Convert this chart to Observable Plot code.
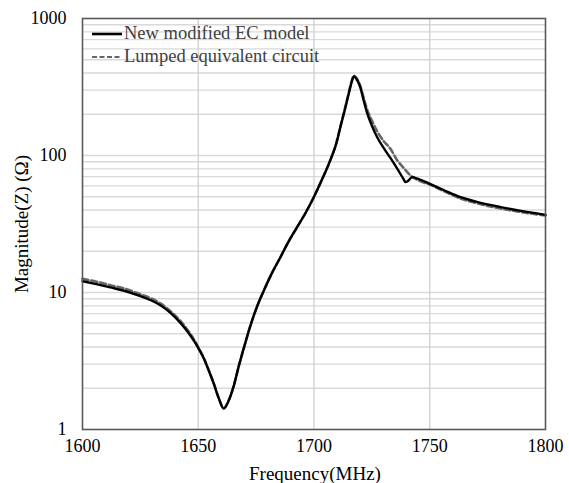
<!DOCTYPE html>
<html><head><meta charset="utf-8">
<script src="https://cdn.jsdelivr.net/npm/d3@7"></script>
<script src="https://cdn.jsdelivr.net/npm/@observablehq/plot@0.6"></script>
<style>
body{margin:0;background:#fff;}
#wrap{position:relative;width:569px;height:483px;overflow:hidden;font-family:"Liberation Serif","Times New Roman",serif;}
#wrap svg text{font-family:"Liberation Serif","Times New Roman",serif !important;font-size:18px !important;fill:#000;}
#legend{position:absolute;left:92px;top:22px;font-size:18.5px;color:#404040;line-height:23px;}
#legend div{display:flex;align-items:center;}
#legend svg{margin-right:2px;}
.ttl{position:absolute;font-size:19px;color:#000;white-space:nowrap;}
#xt{left:315px;top:474px;transform:translate(-50%,-50%);}
#yt{left:22px;top:224px;transform:translate(-50%,-50%) rotate(-90deg);}
</style></head>
<body><div id="wrap"><div id="legend"></div><div class="ttl" id="xt"></div><div class="ttl" id="yt"></div></div>
<script>
const seriesNames = ["New modified EC model", "Lumped equivalent circuit"];
const xTitle = "Frequency(MHz)";
const yTitle = "Magnitude(Z) (Ω)";
const freqA = [1600,1606,1612,1618,1625,1630,1634,1638,1642.3,1645.5,1648.1,1650.5,1652.4,1654.5,1656.7,1658.8,1661,1663,1665.4,1667.5,1670,1672.5,1675.4,1678.3,1681.5,1685.5,1689,1692.7,1696.5,1699.9,1703.5,1707.1,1709.5,1711.4,1713.3,1715,1716.3,1717.2,1718.2,1720.1,1721.5,1723,1725,1727.3,1730,1733,1736,1738.5,1739.5,1740.5,1742.4,1745,1750.3,1756,1763.3,1770,1780.6,1790,1800];
const magA  = [12.1,11.5,10.9,10.3,9.4,8.7,8.0,7.1,6.0,5.15,4.45,3.8,3.3,2.7,2.16,1.7,1.42,1.6,2.1,2.9,4.1,5.7,7.9,10.3,13.5,18.1,23.5,30,38.5,49.6,67,93,120,161,215,282,345,377,365,310,250,203,165,136,114,96,80,68,64,65,69.5,67.5,61.8,56,49.6,46,42,39.3,36.9];
const freqB = [1600,1606,1612,1618,1625,1630,1634,1638,1642.3,1645.5,1648.1,1650.5,1652.4,1654.5,1656.7,1658.8,1661,1663,1665.4,1667.5,1670,1672.5,1675.4,1678.3,1681.5,1685.5,1689,1692.7,1696.5,1699.9,1703.5,1707.1,1709.5,1711.4,1713.3,1715,1716.3,1717.2,1718.2,1720.1,1721.5,1723,1725,1727.3,1730,1733,1736,1738.5,1741.7,1745,1750.3,1756,1763.3,1770,1780.6,1790,1800];
const magB  = [12.6,12.0,11.3,10.7,9.7,9.0,8.25,7.3,6.2,5.3,4.55,3.85,3.33,2.72,2.17,1.71,1.43,1.61,2.1,2.9,4.1,5.7,7.9,10.3,13.5,18.1,23.5,30,38.5,49.6,67,93,121,163,218,287,352,382,370,318,262,215,180,150,128,112,92,82,71.5,66,61,55,48.5,45,41,38.5,36.5];
const xTicks = [1600,1650,1700,1750,1800];
const yTicks = [1,10,100,1000];
const xGrid = [1650,1700,1750];
const yGrid = [2,3,4,5,6,7,8,9,10,20,30,40,50,60,70,80,90,100,200,300,400,500,600,700,800,900];

const dataA = freqA.map((f,i)=>({f, z: magA[i]}));
const dataB = freqB.map((f,i)=>({f, z: magB[i]}));

const chart = Plot.plot({
  width: 569, height: 483,
  marginLeft: 82, marginRight: 24, marginTop: 18, marginBottom: 54,
  style: {fontFamily: '"Liberation Serif","Times New Roman",serif', fontSize: "18px", color: "#000", background: "#fff"},
  x: {domain: [1600,1800], ticks: xTicks, tickSize: 0, tickPadding: 10, tickFormat: d3.format("d"), label: null},
  y: {type: "log", domain: [1,1000], ticks: yTicks, tickSize: 0, tickPadding: 16, tickFormat: d3.format("d"), label: null},
  marks: [
    Plot.ruleY(yGrid, {stroke: "#d9d9d9", strokeWidth: 1.3}),
    Plot.ruleX(xGrid, {stroke: "#d0d0d0", strokeWidth: 1.3}),
    Plot.line(dataB, {x: "f", y: "z", stroke: "#666", strokeWidth: 2.6, strokeDasharray: "6,3", curve: "monotone-x"}),
    Plot.line(dataA, {x: "f", y: "z", stroke: "#000", strokeWidth: 2.4, curve: "monotone-x"}),
    Plot.frame({stroke: "#595959", strokeWidth: 1.6})
  ]
});
const wrap = document.getElementById("wrap");
wrap.insertBefore(chart, wrap.firstChild);
document.getElementById("xt").textContent = xTitle;
document.getElementById("yt").textContent = yTitle;

const leg = document.getElementById("legend");
const styles = [{stroke:"#000", dash:null, w:2.6}, {stroke:"#666", dash:"5,2.5", w:2.2}];
seriesNames.forEach((n,i)=>{
  const row = document.createElement("div");
  const s = styles[i];
  row.innerHTML = `<svg width="30" height="10"><line x1="0" x2="30" y1="5" y2="5" stroke="${s.stroke}" stroke-width="${s.w}" ${s.dash?`stroke-dasharray="${s.dash}"`:""}/></svg><span>${n}</span>`;
  leg.appendChild(row);
});
</script></body></html>
